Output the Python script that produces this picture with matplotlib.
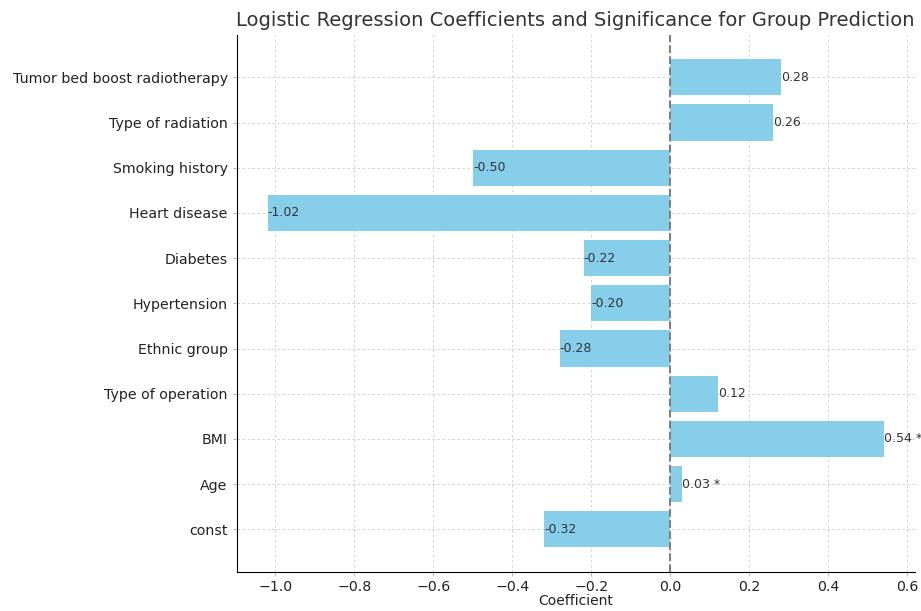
import matplotlib.pyplot as plt
import numpy as np

# data, top of chart first
features = ["Tumor bed boost radiotherapy", "Type of radiation", "Smoking history",
            "Heart disease", "Diabetes", "Hypertension", "Ethnic group",
            "Type of operation", "BMI", "Age", "const"]
coefs = [0.28, 0.26, -0.50, -1.02, -0.22, -0.20, -0.28, 0.12, 0.54, 0.03, -0.32]
significant = [False, False, False, False, False, False, False, False, True, True, False]

if __name__ == "__main__":
    fig, ax = plt.subplots(figsize=(9.21, 6.11), dpi=100)
    fig.subplots_adjust(left=0.257, right=0.993, top=0.943, bottom=0.064)

    # barh draws bottom-up, so reverse
    feats = features[::-1]
    vals = coefs[::-1]
    sig = significant[::-1]
    ypos = np.arange(len(feats))

    ax.barh(ypos, vals, height=0.8, color="skyblue", zorder=2)
    ax.axvline(0, color="gray", linestyle="--", linewidth=1.5, zorder=3)

    for y, v, s in zip(ypos, vals, sig):
        label = f"{v:.2f}" + (" *" if s else "")
        ax.text(v, y, label, va="center", ha="left", fontsize=9, color="#333333", zorder=4)

    ax.set_yticks(ypos)
    ax.set_yticklabels(feats, fontsize=10.2, color="#222222")
    ax.tick_params(axis="x", labelsize=10.2, labelcolor="#222222", pad=3)
    ax.set_xlabel("Coefficient", fontsize=10, color="#222222", labelpad=0)
    ax.set_title("Logistic Regression Coefficients and Significance for Group Prediction",
                 fontsize=14, color="#333333", pad=6)

    ax.grid(True, linestyle=(0, (3, 3)), color="#cccccc", linewidth=0.6, zorder=0)
    ax.set_axisbelow(True)
    ax.spines["top"].set_visible(False)
    ax.spines["right"].set_visible(False)
    ax.tick_params(axis="both", length=3, color="#bbbbbb")

    fig.savefig("out.png")
